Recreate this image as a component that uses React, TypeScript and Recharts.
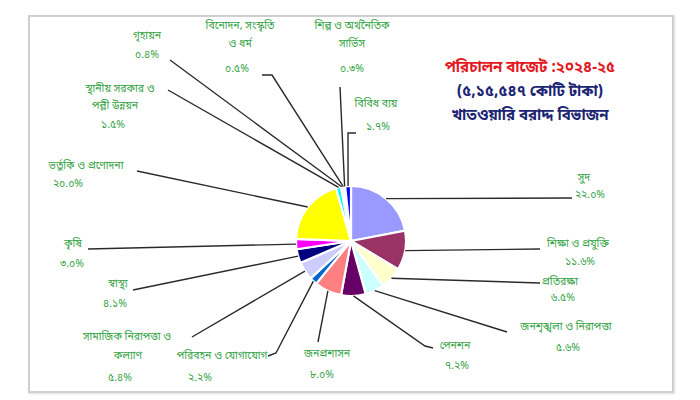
import { PieChart, Pie, Cell } from "recharts";

// খাতওয়ারি বরাদ্দ (শতাংশ), ঘড়ির কাঁটার দিকে ১২টা থেকে
const sectors = [
  "সুদ",
  "শিক্ষা ও প্রযুক্তি",
  "প্রতিরক্ষা",
  "জনশৃঙ্খলা ও নিরাপত্তা",
  "পেনশন",
  "জনপ্রশাসন",
  "পরিবহন ও যোগাযোগ",
  "সামাজিক নিরাপত্তা ও কল্যাণ",
  "স্বাস্থ্য",
  "কৃষি",
  "ভর্তুকি ও প্রণোদনা",
  "স্থানীয় সরকার ও পল্লী উন্নয়ন",
  "গৃহায়ন",
  "বিনোদন, সংস্কৃতি ও ধর্ম",
  "শিল্প ও অর্থনৈতিক সার্ভিস",
  "বিবিধ ব্যয়",
];
const shares = [22.0, 11.6, 6.5, 5.6, 7.2, 8.0, 2.2, 5.4, 4.1, 3.0, 20.0, 1.5, 0.4, 0.5, 0.3, 1.7];

const titleLines = ["পরিচালন বাজেট :২০২৪-২৫", "(৫,১৫,৫৪৭ কোটি টাকা)", "খাতওয়ারি বরাদ্দ বিভাজন"];

const COLORS = [
  "#9999ff", "#993366", "#ffffcc", "#ccffff", "#660066", "#ff8080", "#0066cc", "#ccccff",
  "#000080", "#ff00ff", "#ffff00", "#00ffff", "#800080", "#800000", "#008080", "#0000ff",
];

// label placement: leader end point, optional elbow, name rows (x, y, word count), value position
type Row = [number, number, number];
type Layout = { end: [number, number]; elbow?: [number, number]; rows: Row[]; val: [number, number] };
const LAYOUT: Layout[] = [
  { end: [572, 198], rows: [[584, 181, 1]], val: [590, 198] },
  { end: [540, 249], rows: [[578, 247, 3]], val: [580, 265] },
  { end: [540, 283], rows: [[560, 285, 1]], val: [563, 301] },
  { end: [507, 332], rows: [[566, 330, 3]], val: [568, 351] },
  { end: [433, 348], elbow: [425, 346], rows: [[455, 349, 1]], val: [457, 369] },
  { end: [318, 342], rows: [[327, 357, 1]], val: [322, 378] },
  { end: [268, 356], elbow: [276, 353], rows: [[222, 359, 3]], val: [200, 381] },
  { end: [192, 337], rows: [[127, 340, 3], [128, 359, 1]], val: [120, 381] },
  { end: [133, 290], rows: [[118, 287, 1]], val: [115, 307] },
  { end: [88, 249], rows: [[73, 247, 1]], val: [72, 267] },
  { end: [137, 171], rows: [[86, 169, 3]], val: [68, 187] },
  { end: [168, 90], rows: [[120, 92, 3], [115, 109, 2]], val: [113, 128] },
  { end: [170, 60], rows: [[147, 39, 1]], val: [147, 58] },
  { end: [262, 75], elbow: [272, 75], rows: [[240, 29, 2], [240, 47, 2]], val: [237, 72] },
  { end: [340, 87], rows: [[352, 29, 3], [352, 47, 1]], val: [352, 72] },
  { end: [356, 133], elbow: [348, 133], rows: [[376, 107, 2]], val: [378, 130] },
];

const data = sectors.map((name, i) => ({ name, value: shares[i] }));

const FONT = '"Noto Sans Bengali", "Noto Sans", "DejaVu Sans", sans-serif';
const bn = (s: string) => s.replace(/\d/g, (d) => "০১২৩৪৫৬৭৮৯"[+d]);
const RAD = Math.PI / 180;

function renderLabel(props: any) {
  const { cx, cy, midAngle, outerRadius, index, name, value } = props;
  const lay = LAYOUT[index];
  const sx = cx + outerRadius * Math.cos(-midAngle * RAD);
  const sy = cy + outerRadius * Math.sin(-midAngle * RAD);
  const pts = [[sx, sy], ...(lay.elbow ? [lay.elbow] : []), lay.end];
  const words = String(name).split(" ");
  let w = 0;
  return (
    <g key={`lbl-${index}`}>
      <polyline
        points={pts.map((p) => p.join(",")).join(" ")}
        fill="none"
        stroke="#2a2a2a"
        strokeWidth={1.4}
      />
      {lay.rows.map(([x, y, n], r) => {
        const t = words.slice(w, w + n).join(" ");
        w += n;
        return (
          <text key={r} x={x} y={y} textAnchor="middle" fontSize={10.5} fill="#34a345" fontFamily={FONT}>
            {t}
          </text>
        );
      })}
      <text x={lay.val[0]} y={lay.val[1]} textAnchor="middle" fontSize={10.5} fill="#34a345" fontFamily={FONT}>
        {bn(Number(value).toFixed(1)) + "%"}
      </text>
    </g>
  );
}

export default function App() {
  return (
    <div style={{ position: "absolute", left: 0, top: 0, width: 700, height: 400, background: "#fff" }}>
      <div
        style={{
          position: "absolute",
          left: 28,
          top: 15,
          width: 642,
          height: 374,
          border: "2px solid #cfcfcf",
          boxShadow: "1px 1px 2px #e0e0e0",
        }}
      />
      <div style={{ position: "absolute", left: 0, top: 0 }}>
        <PieChart width={700} height={400}>
          <Pie
            data={data}
            dataKey="value"
            nameKey="name"
            cx={346}
            cy={236}
            outerRadius={55}
            startAngle={90}
            endAngle={-270}
            stroke="#ffffff"
            strokeWidth={2.2}
            label={renderLabel}
            labelLine={false}
            isAnimationActive={false}
          >
            {data.map((d, i) => (
              <Cell key={d.name} fill={COLORS[i]} />
            ))}
          </Pie>
        </PieChart>
      </div>
      <div
        style={{
          position: "absolute",
          left: 420,
          top: 56,
          width: 220,
          textAlign: "center",
          fontFamily: FONT,
          fontWeight: 700,
          lineHeight: "24px",
        }}
      >
        <div style={{ color: "#e3191f", fontSize: 15 }}>{titleLines[0]}</div>
        <div style={{ color: "#1c2573", fontSize: 15 }}>{titleLines[1]}</div>
        <div style={{ color: "#1c2573", fontSize: 15 }}>{titleLines[2]}</div>
      </div>
    </div>
  );
}
